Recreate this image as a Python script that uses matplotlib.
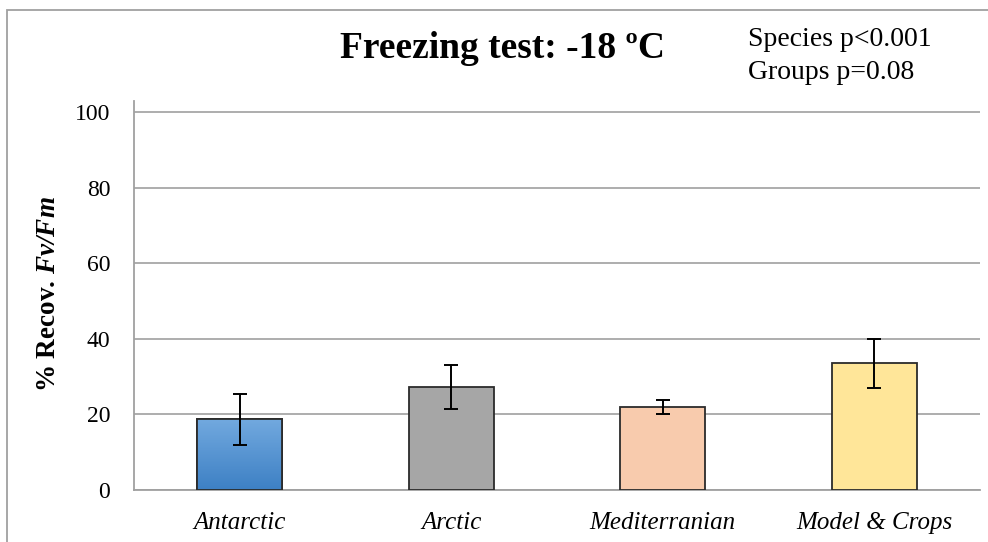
import numpy as np
import matplotlib
matplotlib.use("Agg")
import matplotlib.pyplot as plt
from matplotlib.patches import Rectangle
from matplotlib.colors import LinearSegmentedColormap

categories = ["Antarctic", "Arctic", "Mediterranian", "Model & Crops"]
recovery = [18.7, 27.2, 21.9, 33.5]
errors = [6.7, 5.8, 1.9, 6.5]
bar_colors = ["#5b9bd5", "#a6a6a6", "#f8cbad", "#ffe699"]
y_ticks = [0, 20, 40, 60, 80, 100]

plt.rcParams["font.family"] = ["Liberation Serif", "DejaVu Serif"]
plt.rcParams["mathtext.fontset"] = "custom"
plt.rcParams["mathtext.rm"] = "Liberation Serif"
plt.rcParams["mathtext.it"] = "Liberation Serif:italic"
plt.rcParams["mathtext.bf"] = "Liberation Serif:bold"
plt.rcParams["mathtext.bfit"] = "Liberation Serif:bold:italic"

fig = plt.figure(figsize=(9.88, 5.42), dpi=100)
ax = fig.add_axes([0.1356, 0.0959, 0.8563, 0.7183])

# outer chart frame (clipped by the figure edges)
fig.patches.append(Rectangle((7 / 988, -0.1), 1.2, 1 - 10 / 542 + 0.1,
                             transform=fig.transFigure, fill=False,
                             edgecolor="#a0a0a0", lw=1.3, zorder=0))

x = np.arange(len(categories))
width = 0.4
bars = ax.bar(x, recovery, width=width, color=bar_colors, edgecolor="#2b2b2b",
              linewidth=1.3, zorder=3)

# gradient fill on the first bar
grad = LinearSegmentedColormap.from_list("blue_grad", ["#3d80c4", "#72a9df"])
b0 = bars[0]
im = ax.imshow(np.linspace(0, 1, 256).reshape(-1, 1), cmap=grad, aspect="auto",
               origin="lower",
               extent=[b0.get_x(), b0.get_x() + b0.get_width(), 0, b0.get_height()],
               zorder=3.5)
im.set_clip_path(b0)
ax.bar([x[0]], [recovery[0]], width=width, fill=False, edgecolor="#2b2b2b",
       linewidth=1.3, zorder=4)

ax.errorbar(x, recovery, yerr=errors, fmt="none", ecolor="black",
            elinewidth=1.4, capsize=5, capthick=1.4, zorder=5)

ax.set_xlim(-0.5, 3.5)
ax.set_ylim(0, 103)
ax.set_yticks(y_ticks)
ax.set_yticklabels([str(t) for t in y_ticks], fontsize=17)
ax.set_xticks(x)
ax.set_xticklabels(categories, fontsize=18, style="italic")
ax.tick_params(axis="both", length=0)
ax.tick_params(axis="y", pad=17)
ax.tick_params(axis="x", pad=16)

ax.yaxis.grid(True, color="#a0a0a0", lw=1.2, zorder=0)
ax.set_axisbelow(True)
for s in ["top", "right"]:
    ax.spines[s].set_visible(False)
for s in ["left", "bottom"]:
    ax.spines[s].set_color("#a0a0a0")
    ax.spines[s].set_linewidth(1.3)

fig.text(0.049, 0.458, r"% Recov. $\mathbfit{Fv/Fm}$", rotation=90,
         ha="center", va="center", fontsize=19.5, fontweight="bold")

fig.text(0.5085, 0.911, "Freezing test: -18 ºC", ha="center", va="center",
         fontsize=27, fontweight="bold")
fig.text(0.757, 0.928, "Species p<0.001", ha="left", va="center", fontsize=20)
fig.text(0.757, 0.866, "Groups p=0.08", ha="left", va="center", fontsize=20)

fig.savefig("out.png", dpi=100)
